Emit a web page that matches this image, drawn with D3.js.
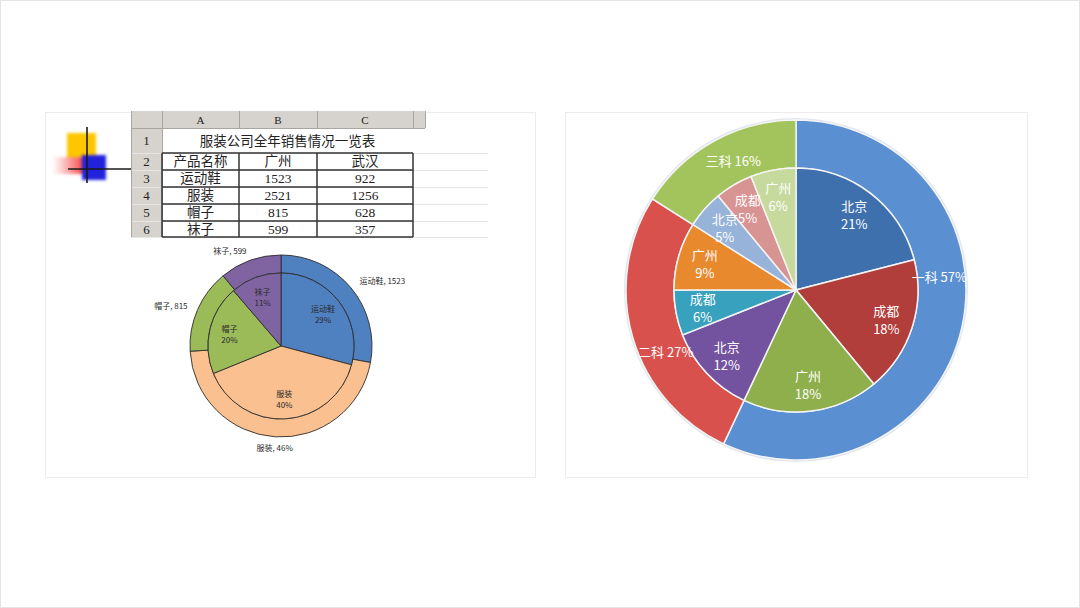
<!DOCTYPE html>
<html>
<head>
<meta charset="utf-8">
<script src="https://cdn.jsdelivr.net/npm/d3@7"></script>
<style>
  body { margin: 0; background: #fff; }
  svg { display: block; }
</style>
</head>
<body>
<div id="slide"></div>
<script>
// data - left: spreadsheet + nested pie
const table_title = "服装公司全年销售情况一览表";
const table_letters = ["A", "B", "C"];
const table_header = ["产品名称", "广州", "武汉"];
const products = ["运动鞋", "服装", "帽子", "袜子"];
const sales_guangzhou = [1523, 2521, 815, 599];
const sales_wuhan = [922, 1256, 628, 357];
const outer_label_kind = ["value", "percent", "value", "value"];
const product_colors = ["#4f80bf", "#fac08f", "#9bbb59", "#8064a2"];

// data - right: department / city nested pie (percent)
const depts = ["一科", "二科", "三科"];
const dept_share = [57, 27, 16];
const cities = ["北京", "成都", "广州"];
const city_share = [[21, 18, 18], [12, 6, 9], [5, 5, 6]];
const dept_colors = ["#5a8fd2", "#d8514d", "#a3c45d"];
const city_colors = [["#3f70ae", "#b23e3b", "#8eaf4c"],
                     ["#7352a0", "#38a1bd", "#e9892e"],
                     ["#97b3d9", "#d89393", "#c6da9d"]];

// layout
const W = 1080, H = 608;
const svg = d3.select("#slide").append("svg")
    .attr("width", W)
    .attr("height", H);

svg.append("rect")
    .attr("x", 0.5).attr("y", 0.5)
    .attr("width", W - 1).attr("height", H - 1)
    .attr("fill", "#fff")
    .attr("stroke", "#e4e4e4");

// panels
svg.append("rect")
    .attr("x", 45.5).attr("y", 112.5)
    .attr("width", 490).attr("height", 365)
    .attr("fill", "#fff").attr("stroke", "#ececec");
svg.append("rect")
    .attr("x", 565.5).attr("y", 112.5)
    .attr("width", 462).attr("height", 365)
    .attr("fill", "#fff").attr("stroke", "#ececec");

const defs = svg.append("defs");
defs.append("filter").attr("id", "soft")
    .attr("x", "-50%").attr("y", "-50%").attr("width", "200%").attr("height", "200%")
    .append("feGaussianBlur").attr("stdDeviation", 1.6);
const red_grad = defs.append("linearGradient").attr("id", "redfade");
red_grad.append("stop").attr("offset", "0%").attr("stop-color", "#ff6060").attr("stop-opacity", 0);
red_grad.append("stop").attr("offset", "100%").attr("stop-color", "#f03030").attr("stop-opacity", 1);

// decorative icon
const icon = svg.append("g");
icon.append("rect").attr("x", 67).attr("y", 133).attr("width", 29).attr("height", 25)
    .attr("fill", "#fdc700").attr("filter", "url(#soft)");
icon.append("rect").attr("x", 52).attr("y", 157).attr("width", 34).attr("height", 17)
    .attr("fill", "url(#redfade)").attr("filter", "url(#soft)");
icon.append("rect").attr("x", 82).attr("y", 155).attr("width", 24).attr("height", 25)
    .attr("fill", "#2424dc").attr("filter", "url(#soft)");
icon.append("line").attr("x1", 87).attr("y1", 127).attr("x2", 87).attr("y2", 183)
    .attr("stroke", "#1a1a1a").attr("stroke-width", 1.6);
icon.append("line").attr("x1", 68).attr("y1", 169).attr("x2", 132).attr("y2", 169)
    .attr("stroke", "#1a1a1a").attr("stroke-width", 1.6);

// spreadsheet
const col_edges = [131, 162, 239, 317, 413, 425];
const row_edges = [111, 128, 153, 170, 187, 204, 221, 237];
const table = svg.append("g")
    .style("font-family", "'Liberation Serif', 'Noto Sans CJK SC', serif")
    .attr("fill", "#222");

const rows = [table_header].concat(products.map((p, i) => [p, sales_guangzhou[i], sales_wuhan[i]]));

// header backgrounds
table.append("rect")
    .attr("x", col_edges[0]).attr("y", row_edges[0])
    .attr("width", col_edges[5] - col_edges[0]).attr("height", row_edges[1] - row_edges[0])
    .attr("fill", "#d6d3ce");
table.append("rect")
    .attr("x", col_edges[0]).attr("y", row_edges[0])
    .attr("width", col_edges[1] - col_edges[0]).attr("height", row_edges[7] - row_edges[0])
    .attr("fill", "#d6d3ce");

// faint grid
row_edges.slice(1).forEach(y => {
    table.append("line")
        .attr("x1", col_edges[0]).attr("x2", y == row_edges[1] ? col_edges[5] : 488)
        .attr("y1", y + 0.5).attr("y2", y + 0.5)
        .attr("stroke", y == row_edges[1] ? "#a8a6a0" : "#e6e6e6");
});
col_edges.forEach(x => {
    table.append("line")
        .attr("x1", x + 0.5).attr("x2", x + 0.5).attr("y1", row_edges[0]).attr("y2", x <= col_edges[1] ? row_edges[7] : row_edges[1])
        .attr("stroke", "#a8a6a0");
});

// bold borders around data range
for (let r = 2; r <= 7; r++) {
    table.append("line")
        .attr("x1", col_edges[1]).attr("x2", col_edges[4])
        .attr("y1", row_edges[r]).attr("y2", row_edges[r])
        .attr("stroke", "#333").attr("stroke-width", 1.5);
}
for (let c = 1; c <= 4; c++) {
    table.append("line")
        .attr("x1", col_edges[c]).attr("x2", col_edges[c])
        .attr("y1", row_edges[2]).attr("y2", row_edges[7])
        .attr("stroke", "#333").attr("stroke-width", 1.5);
}

// column letters
table_letters.forEach((l, i) => {
    table.append("text")
        .attr("x", (col_edges[i + 1] + col_edges[i + 2]) / 2)
        .attr("y", (row_edges[0] + row_edges[1]) / 2)
        .attr("text-anchor", "middle").attr("dominant-baseline", "central")
        .style("font-size", "11px")
        .text(l);
});
// row numbers
d3.range(1, 7).forEach(n => {
    table.append("text")
        .attr("x", (col_edges[0] + col_edges[1]) / 2)
        .attr("y", (row_edges[n] + row_edges[n + 1]) / 2)
        .attr("text-anchor", "middle").attr("dominant-baseline", "central")
        .style("font-size", "13px")
        .text(n);
});
// title
table.append("text")
    .attr("x", (col_edges[1] + col_edges[4]) / 2)
    .attr("y", (row_edges[1] + row_edges[2]) / 2 + 1)
    .attr("text-anchor", "middle").attr("dominant-baseline", "central")
    .style("font-size", "13.5px")
    .text(table_title);
// body cells
rows.forEach((row, r) => {
    row.forEach((v, c) => {
        table.append("text")
            .attr("x", (col_edges[c + 1] + col_edges[c + 2]) / 2)
            .attr("y", (row_edges[r + 2] + row_edges[r + 3]) / 2)
            .attr("text-anchor", "middle").attr("dominant-baseline", "central")
            .style("font-size", "13.5px")
            .text(v);
    });
});

// left nested pie
const lc = { x: 281, y: 346 };
const l_outer = 91, l_inner = 73;
const pie = d3.pie().sort(null).value(d => d);
const gz_arcs = pie(sales_guangzhou);
const wh_arcs = pie(sales_wuhan);
const gz_total = d3.sum(sales_guangzhou), wh_total = d3.sum(sales_wuhan);

const left_pie = svg.append("g").attr("transform", `translate(${lc.x}, ${lc.y})`);
left_pie.selectAll("path.outer")
    .data(gz_arcs)
    .join("path")
        .attr("class", "outer")
        .attr("d", d3.arc().innerRadius(l_inner).outerRadius(l_outer))
        .attr("fill", (d, i) => product_colors[i])
        .attr("stroke", "#2e2e2e").attr("stroke-width", 0.9);
left_pie.selectAll("path.inner")
    .data(wh_arcs)
    .join("path")
        .attr("class", "inner")
        .attr("d", d3.arc().innerRadius(0).outerRadius(l_inner))
        .attr("fill", (d, i) => product_colors[i])
        .attr("stroke", "#2e2e2e").attr("stroke-width", 0.9);

const l_lab = d3.arc().innerRadius(102).outerRadius(102);
left_pie.selectAll("text.outer")
    .data(gz_arcs)
    .join("text")
        .attr("class", "outer")
        .attr("x", d => l_lab.centroid(d)[0])
        .attr("y", d => l_lab.centroid(d)[1])
        .attr("text-anchor", d => {
            const s = Math.sin((d.startAngle + d.endAngle) / 2);
            return Math.abs(s) < 0.3 ? "middle" : (s > 0 ? "start" : "end");
        })
        .attr("dominant-baseline", "central")
        .style("font-family", "'Noto Sans CJK SC', sans-serif")
        .style("font-size", "8px")
        .attr("fill", "#2a2a2a")
        .text((d, i) => products[i] + ", " + (outer_label_kind[i] == "percent"
            ? Math.round(d.value / gz_total * 100) + "%" : d.value));

const l_in_lab = d3.arc().innerRadius(33).outerRadius(73);
const l_in_text = left_pie.selectAll("g.inlab")
    .data(wh_arcs)
    .join("g")
        .attr("class", "inlab")
        .attr("transform", d => `translate(${l_in_lab.centroid(d)})`)
        .style("font-family", "'Noto Sans CJK SC', sans-serif")
        .style("font-size", "8px")
        .attr("fill", "#2a2a2a")
        .attr("text-anchor", "middle");
l_in_text.append("text").attr("y", -5).attr("dominant-baseline", "central")
    .text((d, i) => products[i]);
l_in_text.append("text").attr("y", 6).attr("dominant-baseline", "central")
    .text(d => Math.round(d.value / wh_total * 100) + "%");

// right nested pie
const rc = { x: 796, y: 290 };
const r_outer = 170, r_inner = 122;
const right_pie = svg.append("g").attr("transform", `translate(${rc.x}, ${rc.y})`);

right_pie.append("circle").attr("r", r_outer + 1)
    .attr("fill", "none").attr("stroke", "#e2e6ee").attr("stroke-width", 2);

const dept_arcs = pie(dept_share);
const city_flat = [];
city_share.forEach((row, di) => row.forEach((v, ci) => city_flat.push({ dept: di, city: ci, value: v })));
const city_arcs = d3.pie().sort(null).value(d => d.value)(city_flat);

right_pie.selectAll("path.dept")
    .data(dept_arcs)
    .join("path")
        .attr("class", "dept")
        .attr("d", d3.arc().innerRadius(r_inner).outerRadius(r_outer))
        .attr("fill", (d, i) => dept_colors[i])
        .attr("stroke", "#f4f4f4").attr("stroke-width", 1.5);
right_pie.selectAll("path.city")
    .data(city_arcs)
    .join("path")
        .attr("class", "city")
        .attr("d", d3.arc().innerRadius(0).outerRadius(r_inner))
        .attr("fill", d => city_colors[d.data.dept][d.data.city])
        .attr("stroke", "#f4f4f4").attr("stroke-width", 1.5);

// outer labels (Excel pushed them a bit off the slice middle)
const dept_label_nudge = [-18, -9, 3];
right_pie.selectAll("text.dept")
    .data(dept_arcs)
    .join("text")
        .attr("class", "dept")
        .attr("transform", (d, i) => {
            const a = (d.startAngle + d.endAngle) / 2 + dept_label_nudge[i] * Math.PI / 180;
            return `translate(${144 * Math.sin(a)}, ${-144 * Math.cos(a)})`;
        })
        .attr("text-anchor", "middle").attr("dominant-baseline", "central")
        .style("font-family", "'Noto Sans CJK SC', sans-serif")
        .style("font-size", "13px")
        .attr("fill", "#fff")
        .text((d, i) => depts[i] + " " + d.value + "%");

const r_in_lab = d3.arc().innerRadius(68).outerRadius(r_inner);
const r_in_text = right_pie.selectAll("g.citylab")
    .data(city_arcs)
    .join("g")
        .attr("class", "citylab")
        .attr("transform", d => `translate(${r_in_lab.centroid(d)})`)
        .style("font-family", "'Noto Sans CJK SC', sans-serif")
        .style("font-size", "13px")
        .attr("fill", "#fff")
        .attr("text-anchor", "middle");
r_in_text.append("text").attr("y", -9).attr("dominant-baseline", "central")
    .text(d => cities[d.data.city]);
r_in_text.append("text").attr("y", 9).attr("dominant-baseline", "central")
    .text(d => d.value + "%");
</script>
</body>
</html>
